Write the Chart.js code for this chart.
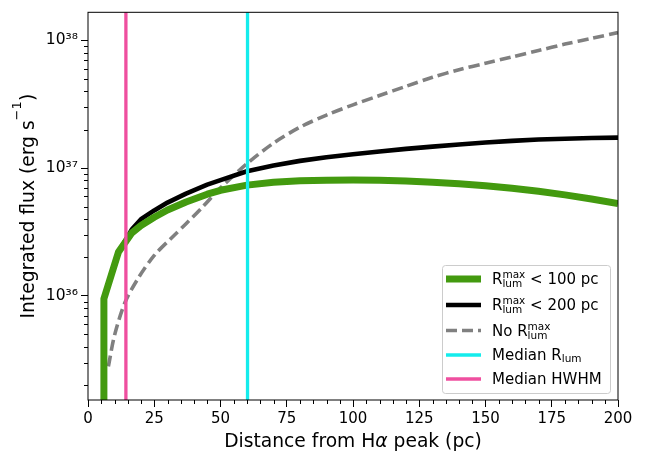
<!DOCTYPE html>
<html><head><meta charset="utf-8">
<script src="https://cdn.jsdelivr.net/npm/chart.js@4/dist/chart.umd.min.js"></script>
<style>html,body{margin:0;padding:0;background:#fff;overflow:hidden}</style>
</head><body>
<canvas id="c" width="662" height="453"></canvas>
<script>
// ---- data ----
const X_TICKS = [0, 25, 50, 75, 100, 125, 150, 175, 200];
const Y_TICKS = [1e36, 1e37, 1e38];
const Y_TICK_LABELS = ['10\u00B3\u2076', '10\u00B3\u2077', '10\u00B3\u2078'];
const X_MIN = 0, X_MAX = 200;
const Y_MIN = 1.53e35, Y_MAX = 1.656e38;

// R_lum^max < 100 pc
const greenX = [6, 6, 11.5, 16.5, 20, 25, 30, 37, 45, 50, 60, 70, 80, 90, 100, 110, 120, 130, 140, 150, 160, 170, 180, 190, 200];
const greenY = [1e33, 9.5e35, 2.2e36, 3.1e36, 3.55e36, 4.12e36, 4.7e36, 5.43e36, 6.24e36, 6.7e36, 7.35e36, 7.73e36, 7.94e36, 8.04e36, 8.05e36, 8.02e36, 7.93e36, 7.76e36, 7.55e36, 7.28e36, 6.95e36, 6.58e36, 6.17e36, 5.73e36, 5.27e36];
// R_lum^max < 200 pc
const blackX = [6, 6, 11.5, 16.5, 20, 25, 30, 37, 45, 50, 60, 70, 80, 90, 100, 110, 120, 130, 140, 150, 160, 170, 180, 190, 200];
const blackY = [1e33, 9.5e35, 2.2e36, 3.3e36, 3.98e36, 4.66e36, 5.37e36, 6.31e36, 7.41e36, 8.04e36, 9.44e36, 1.047e37, 1.138e37, 1.216e37, 1.282e37, 1.346e37, 1.413e37, 1.472e37, 1.531e37, 1.585e37, 1.633e37, 1.671e37, 1.698e37, 1.718e37, 1.73e37];
// No R_lum^max
const grayX = [7.7, 10, 14, 19, 25, 31.6, 37, 43, 50, 60, 70, 80, 90, 100, 110, 120, 130, 140, 150, 160, 170, 180, 190, 200];
const grayY = [2.8e35, 4.9e35, 8.9e35, 1.38e36, 2.07e36, 2.85e36, 3.67e36, 4.9e36, 7.0e36, 1.084e37, 1.567e37, 2.089e37, 2.6e37, 3.126e37, 3.698e37, 4.365e37, 5.129e37, 5.888e37, 6.607e37, 7.413e37, 8.318e37, 9.333e37, 1.035e38, 1.148e38];
// vertical reference lines
const RLUM_MEDIAN = 60.2;
const HWHM_MEDIAN = 14.3;

const FONT = "'DejaVu Sans', sans-serif";
const GREEN = '#439a0f', GRAY = '#808080', CYAN = '#14ecec', PINK = '#ef4f9f';

const pts = (xs, ys) => xs.map((x, i) => ({x, y: ys[i]}));

const LEGEND_ROWS = [
  {ds: 2, parts: [{t: 'R'}, {sup: 'max', sub: 'lum'}, {t: ' < 100 pc'}]},
  {ds: 3, parts: [{t: 'R'}, {sup: 'max', sub: 'lum'}, {t: ' < 200 pc'}]},
  {ds: 4, parts: [{t: 'No R'}, {sup: 'max', sub: 'lum'}]},
  {ds: 1, parts: [{t: 'Median R'}, {sub: 'lum'}]},
  {ds: 0, parts: [{t: 'Median HWHM'}]}
];

function richWidth(ctx, parts, size) {
  let w = 0;
  for (const p of parts) {
    if (p.t !== undefined) { ctx.font = (p.italic ? 'italic ' : '') + size + 'px ' + FONT; w += ctx.measureText(p.t).width; }
    else { ctx.font = (size * 0.7) + 'px ' + FONT; w += Math.max(p.sup ? ctx.measureText(p.sup).width : 0, p.sub ? ctx.measureText(p.sub).width : 0); }
  }
  return w;
}
function drawRich(ctx, x, y, parts, size, supRaise, subDrop) {
  ctx.textBaseline = 'alphabetic'; ctx.textAlign = 'left';
  for (const p of parts) {
    if (p.t !== undefined) {
      ctx.font = (p.italic ? 'italic ' : '') + size + 'px ' + FONT;
      ctx.fillText(p.t, x, y); x += ctx.measureText(p.t).width;
    } else {
      ctx.font = (size * 0.7) + 'px ' + FONT;
      let w = 0;
      if (p.sup) { ctx.fillText(p.sup, x, y - (p.sub ? supRaise : p.raise || supRaise)); w = Math.max(w, ctx.measureText(p.sup).width); }
      if (p.sub) { ctx.fillText(p.sub, x, y + (p.sup ? subDrop : subDrop * 0.7)); w = Math.max(w, ctx.measureText(p.sub).width); }
      x += w;
    }
  }
}

const decor = {
  id: 'decor',
  afterDraw(chart) {
    const ctx = chart.ctx, a = chart.chartArea, xs = chart.scales.x, ys = chart.scales.y;
    ctx.save();
    ctx.strokeStyle = '#000'; ctx.lineWidth = 1;
    // minor ticks
    ctx.beginPath();
    for (let v = 5; v < X_MAX; v += 5) {
      if (v % 25 === 0) continue;
      const px = Math.round(xs.getPixelForValue(v)) + 0.5;
      ctx.moveTo(px, a.bottom); ctx.lineTo(px, a.bottom + 4);
    }
    for (let e = 35; e <= 38; e++) for (let k = 2; k <= 9; k++) {
      const v = k * Math.pow(10, e);
      if (v < Y_MIN || v > Y_MAX) continue;
      const py = Math.round(ys.getPixelForValue(v)) + 0.5;
      ctx.moveTo(a.left - 4, py); ctx.lineTo(a.left, py);
    }
    ctx.stroke();
    // frame
    ctx.strokeRect(a.left, a.top, a.right - a.left, a.bottom - a.top);

    // axis titles
    ctx.fillStyle = '#000';
    const tsize = 18.7;
    const xt = [{t: 'Distance from H'}, {t: '\u03B1', italic: true}, {t: ' peak (pc)'}];
    const xw = richWidth(ctx, xt, tsize);
    drawRich(ctx, (a.left + a.right) / 2 - xw / 2, 446.5, xt, tsize, 7, 3);
    const yt = [{t: 'Integrated flux (erg s'}, {sup: '\u22121', raise: 12.5}, {t: ')'}];
    const yw = richWidth(ctx, yt, tsize);
    ctx.save();
    ctx.translate(33.5, (a.top + a.bottom) / 2);
    ctx.rotate(-Math.PI / 2);
    drawRich(ctx, -yw / 2, 0, yt, tsize, 12.5, 3);
    ctx.restore();

    // legend
    const L = 442, T = 265, R = 610, B = 393;
    ctx.beginPath();
    ctx.roundRect(L + 0.5, T + 0.5, R - L, B - T, 3);
    ctx.fillStyle = 'rgba(255,255,255,0.8)'; ctx.fill();
    ctx.strokeStyle = '#cccccc'; ctx.lineWidth = 1; ctx.stroke();
    const rowY = [279, 305, 330.5, 355, 379];
    LEGEND_ROWS.forEach((row, i) => {
      const ds = chart.data.datasets[row.ds];
      const y = rowY[i];
      ctx.save();
      ctx.beginPath();
      ctx.strokeStyle = ds.borderColor; ctx.lineWidth = ds.borderWidth;
      ctx.setLineDash(ds.borderDash || []);
      ctx.lineCap = 'butt';
      ctx.moveTo(446, y); ctx.lineTo(481, y); ctx.stroke();
      ctx.restore();
      ctx.fillStyle = '#000';
      drawRich(ctx, 492, y + 5.3, row.parts, 15, 6, 3);
    });
    ctx.restore();
  }
};

new Chart(document.getElementById('c'), {
  type: 'line',
  data: {
    datasets: [
      {label: 'Median HWHM', data: pts([HWHM_MEDIAN, HWHM_MEDIAN], [1e30, 1e40]), borderColor: PINK, borderWidth: 3.3, order: 0},
      {label: 'Median R_lum', data: pts([RLUM_MEDIAN, RLUM_MEDIAN], [1e30, 1e40]), borderColor: CYAN, borderWidth: 3.3, order: 1},
      {label: 'R_lum^max < 100 pc', data: pts(greenX, greenY), borderColor: GREEN, borderWidth: 7, order: 2},
      {label: 'R_lum^max < 200 pc', data: pts(blackX, blackY), borderColor: '#000000', borderWidth: 4.6, order: 3},
      {label: 'No R_lum^max', data: pts(grayX, grayY), borderColor: GRAY, borderWidth: 3.6, borderDash: [11, 5], tension: 0.3, order: 4}
    ]
  },
  options: {
    responsive: false, animation: false, devicePixelRatio: 1, events: [],
    layout: {padding: {left: 0, top: 6, right: 44, bottom: 0}},
    elements: {point: {radius: 0}, line: {tension: 0, borderJoinStyle: 'round', fill: false}},
    plugins: {legend: {display: false}, tooltip: {enabled: false}},
    scales: {
      x: {
        type: 'linear', min: X_MIN, max: X_MAX,
        afterBuildTicks: s => { s.ticks = X_TICKS.map(v => ({value: v})); },
        afterFit: s => { s.height = 53; },
        ticks: {font: {family: FONT, size: 15}, color: '#000', padding: 3, maxRotation: 0, autoSkip: false},
        grid: {drawOnChartArea: false, drawTicks: true, tickLength: 7, tickColor: '#000', tickWidth: 1},
        border: {display: false}
      },
      y: {
        type: 'logarithmic', min: Y_MIN, max: Y_MAX,
        afterBuildTicks: s => { s.ticks = Y_TICKS.map(v => ({value: v, major: true})); },
        afterFit: s => { s.width = 88; },
        ticks: {font: {family: FONT, size: 15.5}, color: '#000', padding: 3, autoSkip: false,
          callback: (v, i) => Y_TICK_LABELS[i]},
        grid: {drawOnChartArea: false, drawTicks: true, tickLength: 7, tickColor: '#000', tickWidth: 1},
        border: {display: false}
      }
    }
  },
  plugins: [decor]
});
</script>
</body></html>
